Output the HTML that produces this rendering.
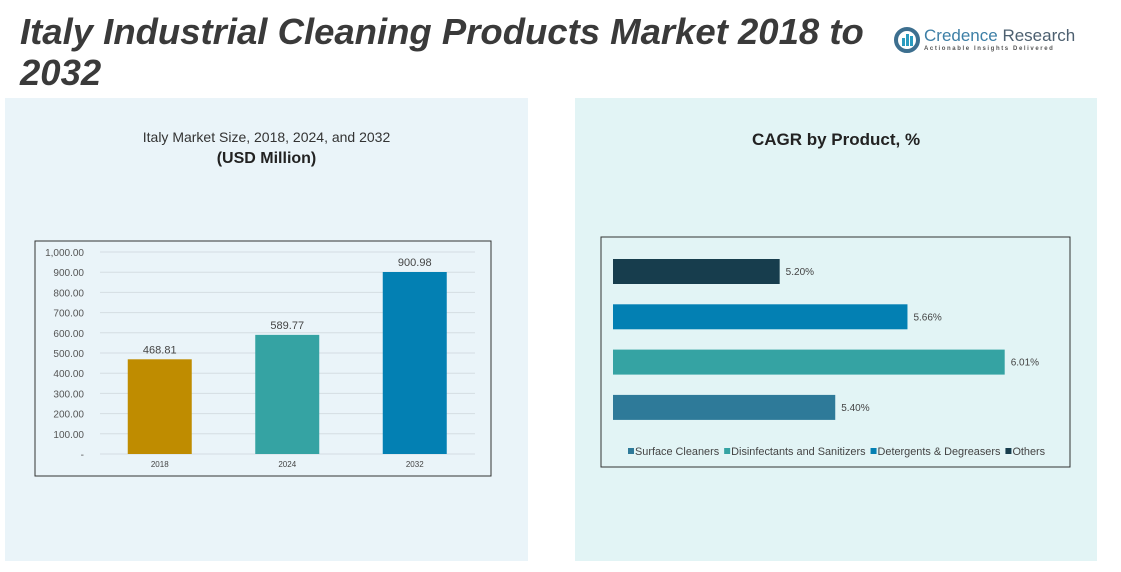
<!DOCTYPE html>
<html><head><meta charset="utf-8"><style>
body{margin:0;width:1121px;height:572px;background:#fff;position:relative;overflow:hidden;font-family:"Liberation Sans",sans-serif;}
.abs{position:absolute;}
</style></head><body>
<div class="abs" style="left:5px;top:98px;width:523px;height:463px;background:#eaf4f9;"></div>
<div class="abs" style="left:575px;top:98px;width:522px;height:463px;background:#e2f4f5;"></div>
<div class="abs" style="left:20px;top:11px;width:880px;font-size:36.5px;line-height:41px;font-weight:bold;font-style:italic;color:#3a3a3a;">Italy Industrial Cleaning Products Market 2018 to 2032</div>
<div class="abs" style="left:893px;top:26px;width:180px;height:30px;">
<svg width="28" height="28" style="position:absolute;left:0;top:0"><circle cx="14" cy="14" r="11" fill="none" stroke="#3d6f8f" stroke-width="4"/><rect x="9" y="12" width="3" height="8" fill="#2a9bbf"/><rect x="13" y="8" width="3" height="12" fill="#2a9bbf"/><rect x="17" y="10" width="3" height="10" fill="#2a9bbf"/></svg>
<div style="position:absolute;left:31px;top:0;font-size:17px;color:#3d7fa6;white-space:nowrap">Credence <span style="color:#4d6070">Research</span></div>
<div style="position:absolute;left:31px;top:20px;font-size:6px;letter-spacing:1.6px;color:#555;white-space:nowrap;font-weight:bold">Actionable Insights Delivered</div>
</div>
<div class="abs" style="left:5px;top:129px;width:523px;text-align:center;font-size:14px;color:#333;">Italy Market Size, 2018, 2024, and 2032</div>
<div class="abs" style="left:5px;top:150px;width:523px;text-align:center;font-size:16px;font-weight:bold;color:#222;">(USD Million)</div>
<div class="abs" style="left:575px;top:130px;width:522px;text-align:center;font-size:17px;font-weight:bold;color:#222;">CAGR by Product, %</div>

<svg class="abs" style="left:0;top:0" width="1121" height="572" id="charts">
<rect x="35" y="241" width="456" height="235" fill="none" stroke="#333" stroke-width="1"/>
<rect x="601" y="237" width="469" height="230" fill="none" stroke="#333" stroke-width="1"/>
<g id="vbar"></g><g id="hbar"></g>
</svg>
<script>
const years=["2018","2024","2032"];
const marketValues=[468.81,589.77,900.98];
const yTicks=[0,100,200,300,400,500,600,700,800,900,1000];
const yTickLabels=["-","100.00","200.00","300.00","400.00","500.00","600.00","700.00","800.00","900.00","1,000.00"];
const products=["Others","Detergents & Degreasers","Disinfectants and Sanitizers","Surface Cleaners"];
const cagrValues=[5.20,5.66,6.01,5.40];
const cagrLabels=["5.20%","5.66%","6.01%","5.40%"];
const legendOrder=["Surface Cleaners","Disinfectants and Sanitizers","Detergents & Degreasers","Others"];
const NS="http://www.w3.org/2000/svg";
const colorsV=["#bf8c00","#35a3a3","#0380b3"];
const colorsH={"Others":"#173d4d","Detergents & Degreasers":"#0380b3","Disinfectants and Sanitizers":"#35a3a3","Surface Cleaners":"#2e7a99"};
function mk(t,a,p){const e=document.createElementNS(NS,t);for(const k in a)e.setAttribute(k,a[k]);p.appendChild(e);return e;}
const vg=document.getElementById('vbar');
const y=v=>454-v*0.202;
const x0=96,cw=127.5;
yTicks.forEach((t,i)=>{
 const l=mk('line',{x1:100,x2:475,y1:y(t),y2:y(t),stroke:'#d4dde2','stroke-width':1},vg);
 
 
 const tx=mk('text',{x:84,y:y(t)+4,'text-anchor':'end','font-size':10,fill:'#555'},vg);
 tx.textContent=yTickLabels[i];
 
 
});
years.forEach((yr,i)=>{
 const cx=x0+cw*(i+0.5);
 const r=mk('rect',{x:cx-32,y:y(marketValues[i]),width:64,height:454-y(marketValues[i]),fill:colorsV[i]},vg);
 
 
 const v=mk('text',{x:cx,y:y(marketValues[i])-6,'text-anchor':'middle','font-size':11,fill:'#444'},vg);
 v.textContent=marketValues[i].toFixed(2);
 
 
 const c=mk('text',{x:cx,y:467,'text-anchor':'middle','font-size':8,fill:'#444'},vg);
 c.textContent=yr;
 
 
});
const hg=document.getElementById('hbar');
const xmin=4.6,xs=277.8,hx0=613;
const hx=v=>hx0+(v-xmin)*xs;
products.forEach((p,i)=>{
 const top=259+i*45.3;
 const r=mk('rect',{x:hx0,y:top,width:hx(cagrValues[i])-hx0,height:25,fill:colorsH[p]},hg);
 
 
 const t=mk('text',{x:hx(cagrValues[i])+6,y:top+16,'font-size':10,fill:'#444'},hg);
 t.textContent=cagrLabels[i];
 
 
});
let lx=628;
legendOrder.forEach(p=>{
 const s=mk('rect',{x:lx,y:448,width:6,height:6,fill:colorsH[p]},hg);
 
 
 const t=mk('text',{x:lx+7,y:455,'font-size':10.9,fill:'#444'},hg);
 t.textContent=p;
 
 
 lx+=7+t.getComputedTextLength()+5;
});
</script>
</body></html>
